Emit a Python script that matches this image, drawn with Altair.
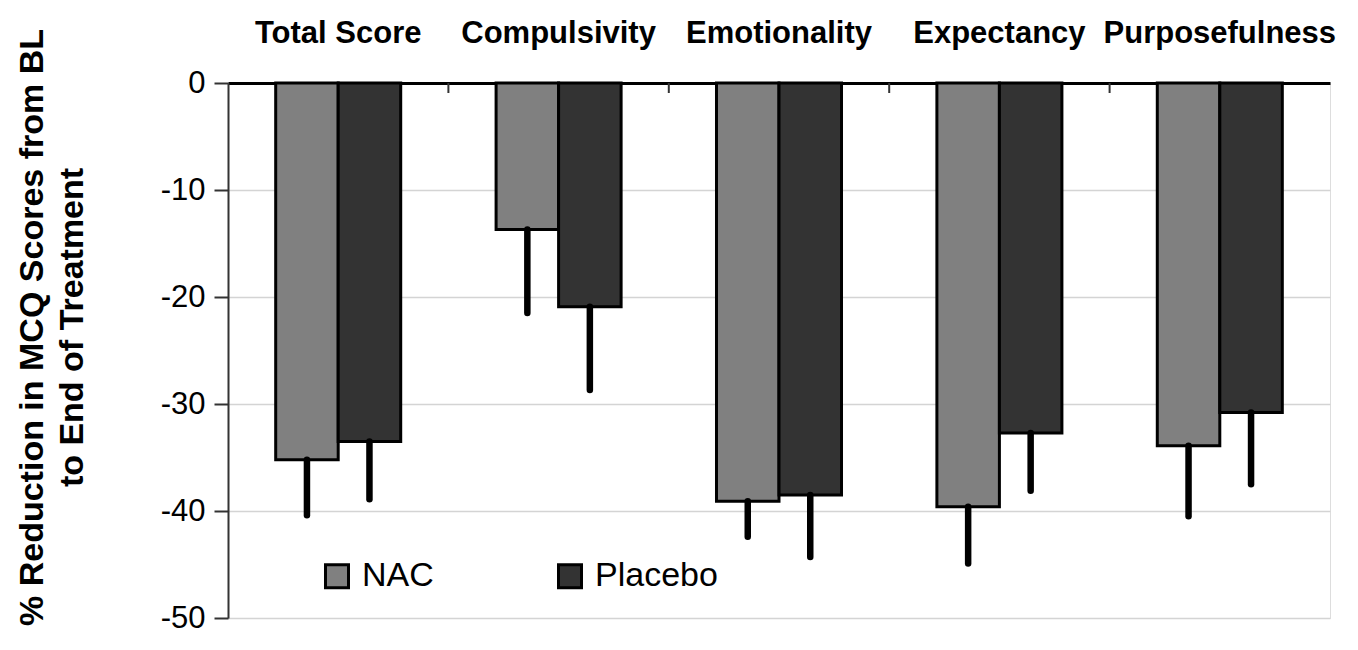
import altair as alt
import pandas as pd

categories = ["Total Score", "Compulsivity", "Emotionality", "Expectancy", "Purposefulness"]
groups = ["NAC", "Placebo"]
nac_values = [-35.2, -13.7, -39.1, -39.6, -33.9]
placebo_values = [-33.5, -20.9, -38.5, -32.7, -30.8]
nac_err = [5.2, 7.8, 3.3, 5.3, 6.6]
placebo_err = [5.4, 7.8, 5.8, 5.4, 6.7]
y_ticks = [0, -10, -20, -30, -40, -50]
colors = ["#808080", "#333333"]

rows = []
for i, c in enumerate(categories):
    rows.append({"cat": c, "group": "NAC", "value": nac_values[i], "low": nac_values[i] - nac_err[i]})
    rows.append({"cat": c, "group": "Placebo", "value": placebo_values[i], "low": placebo_values[i] - placebo_err[i]})
df = pd.DataFrame(rows)
bounds = pd.DataFrame({"cat": categories[1:]})

FONT = "Liberation Sans"

x_enc = alt.X(
    "cat:N",
    sort=categories,
    scale=alt.Scale(paddingInner=0, paddingOuter=0),
    axis=alt.Axis(
        orient="top", title=None, labelAngle=0, ticks=False, grid=False, labelLimit=0,
        labelFont=FONT, labelFontSize=31, labelFontWeight="bold", labelColor="black",
        labelPadding=34, domainColor="black", domainWidth=3,
    ),
)
xoff = alt.XOffset("group:N", sort=groups, scale=alt.Scale(paddingInner=0, paddingOuter=0.763))
y_enc = alt.Y(
    "value:Q",
    scale=alt.Scale(domain=[-50, 0], nice=False),
    axis=alt.Axis(
        values=y_ticks, title=["% Reduction in MCQ Scores from BL", "to End of Treatment"],
        titleFont=FONT, titleFontSize=34, titleFontWeight="bold", titleColor="black",
        titleX=-213, titleY=244, titleBaseline="top", titleAlign="center", titleAngle=-90,
        titleLineHeight=40,
        labelFont=FONT, labelFontSize=31, labelColor="black", labelPadding=9,
        labelExpr="'' + datum.value",
        tickSize=14, tickColor="#333333", tickWidth=2,
        domainColor="#333333", domainWidth=2,
        grid=True, gridColor="#d4d4d4", gridWidth=1.5,
    ),
)

bars = alt.Chart(df).mark_bar(stroke="black", strokeWidth=3).encode(
    x=x_enc,
    xOffset=xoff,
    y=y_enc,
    color=alt.Color(
        "group:N",
        scale=alt.Scale(domain=groups, range=colors),
        legend=alt.Legend(
            title=None, orient="none", legendX=92, legendY=476, direction="horizontal",
            columns=2, columnPadding=118, padding=0,
            symbolType="square", symbolSize=529, symbolStrokeColor="black", symbolStrokeWidth=3,
            symbolOpacity=1, labelFont=FONT, labelFontSize=34, labelColor="black", labelOffset=8,
        ),
    ),
)

errs = alt.Chart(df).mark_rule(strokeWidth=6.5, strokeCap="round", color="black").encode(
    x=alt.X("cat:N", sort=categories),
    xOffset=alt.XOffset("group:N", sort=groups),
    y="value:Q",
    y2="low:Q",
)

ticks = alt.Chart(bounds).mark_rule(color="#333333", strokeWidth=2).encode(
    x=alt.X("cat:N", sort=categories, bandPosition=0),
    y=alt.value(0),
    y2=alt.value(10),
)

chart = alt.layer(bars, errs, ticks).properties(
    width=1102, height=535,
    autosize=alt.AutoSizeParams(type="none"),
    padding={"left": 220, "top": 75, "right": 20, "bottom": 15},
).configure_view(stroke="#8c8c8c", strokeWidth=3).configure(background="white")

chart.save("out.html", embed_options={"renderer": "svg", "actions": False})
